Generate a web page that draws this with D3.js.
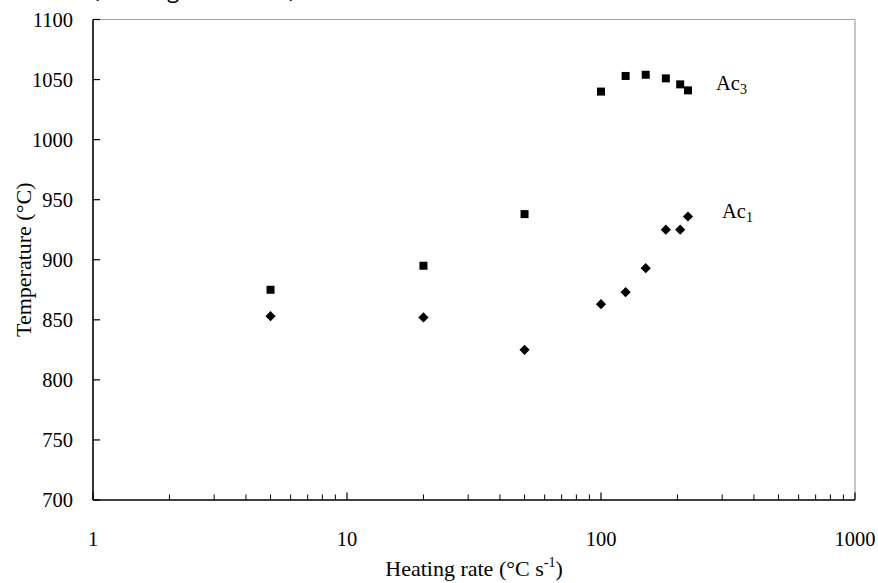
<!DOCTYPE html>
<html><head><meta charset="utf-8">
<script src="https://cdn.jsdelivr.net/npm/d3@7"></script>
<style>body{margin:0;background:#fff}svg{display:block}</style>
</head><body>
<svg id="c" width="878" height="583"></svg>
<script>
const ac3Rate = [5, 20, 50, 100, 125, 150, 180, 205, 220];
const ac3Temp = [875, 895, 938, 1040, 1053, 1054, 1051, 1046, 1041];
const ac1Rate = [5, 20, 50, 100, 125, 150, 180, 205, 220];
const ac1Temp = [853, 852, 825, 863, 873, 893, 925, 925, 936];
const xTicks = [1, 10, 100, 1000];
const yTicks = [700, 750, 800, 850, 900, 950, 1000, 1050, 1100];

const svg = d3.select("#c");
const L = 93, R = 855, T = 19.5, B = 500;
const x = d3.scaleLog().domain([1, 1000]).range([L, R]);
const y = d3.scaleLinear().domain([700, 1100]).range([B, T]);
const serif = "'Liberation Serif', 'DejaVu Serif', serif";

// cut-off title at top (only its lowest part is visible in the reference)
svg.append("text").attr("x", 93).attr("y", -2).attr("font-family", "'Open Sans', sans-serif")
  .attr("font-size", 22).attr("fill", "#000").text("(Heating behaviour)");

// top and right frame (gray)
svg.append("line").attr("x1", L).attr("x2", R).attr("y1", T).attr("y2", T).attr("stroke", "#a0a0a0").attr("stroke-width", 1.2);
svg.append("line").attr("x1", R).attr("x2", R).attr("y1", T).attr("y2", B).attr("stroke", "#a0a0a0").attr("stroke-width", 1.2);

// x axis
const minor = [];
for (let d = 1; d < 1000; d *= 10) for (let k = 2; k <= 9; k++) minor.push(d * k);
const xa = svg.append("g");
xa.selectAll("line.mn").data(minor).join("line").attr("class", "mn")
  .attr("x1", d => x(d)).attr("x2", d => x(d)).attr("y1", B).attr("y2", B - 5.5)
  .attr("stroke", "#000").attr("stroke-width", 1);
xa.selectAll("line.mj").data(xTicks).join("line").attr("class", "mj")
  .attr("x1", d => x(d)).attr("x2", d => x(d)).attr("y1", B).attr("y2", B - 7.5)
  .attr("stroke", "#000").attr("stroke-width", 1.2);
xa.append("line").attr("x1", L).attr("x2", R).attr("y1", B).attr("y2", B).attr("stroke", "#000").attr("stroke-width", 1.6);
xa.selectAll("text").data(xTicks).join("text")
  .attr("x", d => x(d)).attr("y", 546).attr("text-anchor", "middle")
  .attr("font-family", serif).attr("font-size", 20.5).text(d => d);

// y axis
const ya = svg.append("g");
ya.selectAll("line").data(yTicks).join("line")
  .attr("x1", L).attr("x2", L + 7).attr("y1", d => y(d)).attr("y2", d => y(d))
  .attr("stroke", "#000").attr("stroke-width", 1.2);
ya.append("line").attr("x1", L).attr("x2", L).attr("y1", T).attr("y2", B).attr("stroke", "#000").attr("stroke-width", 1.6);
ya.selectAll("text").data(yTicks).join("text")
  .attr("x", 73).attr("y", d => y(d) + 7).attr("text-anchor", "end")
  .attr("font-family", serif).attr("font-size", 20.5).text(d => d);

// axis titles
const xt = svg.append("text").attr("x", 474).attr("y", 576).attr("text-anchor", "middle")
  .attr("font-family", serif).attr("font-size", 22);
xt.append("tspan").text("Heating rate (°C s");
xt.append("tspan").attr("dy", -9).attr("font-size", 14).text("-1");
xt.append("tspan").attr("dy", 9).text(")");
svg.append("text").attr("transform", `translate(31,${(T + B) / 2}) rotate(-90)`)
  .attr("text-anchor", "middle").attr("font-family", serif).attr("font-size", 22).text("Temperature (°C)");

// points
const ac3 = ac3Rate.map((r, i) => ({ r, t: ac3Temp[i] }));
const ac1 = ac1Rate.map((r, i) => ({ r, t: ac1Temp[i] }));
svg.append("g").selectAll("path").data(ac3).join("path")
  .attr("d", d3.symbol(d3.symbolSquare, 64))
  .attr("transform", d => `translate(${x(d.r)},${y(d.t)})`).attr("fill", "#000");
svg.append("g").selectAll("path").data(ac1).join("path")
  .attr("d", d3.symbol(d3.symbolSquare, 52))
  .attr("transform", d => `translate(${x(d.r)},${y(d.t)}) rotate(45)`).attr("fill", "#000");

// series labels
function lab(xp, yp, sub) {
  const t = svg.append("text").attr("x", xp).attr("y", yp).attr("font-family", serif).attr("font-size", 20.5);
  t.append("tspan").text("Ac");
  t.append("tspan").attr("dy", 4).attr("font-size", 14).text(sub);
}
lab(716, 90, "3");
lab(722, 218, "1");
</script>
</body></html>
